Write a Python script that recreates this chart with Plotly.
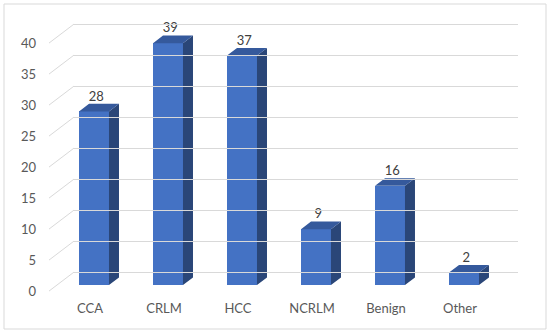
import plotly.graph_objects as go

categories = ["CCA", "CRLM", "HCC", "NCRLM", "Benign", "Other"]
values = [28, 39, 37, 9, 16, 2]
y_ticks = [0, 5, 10, 15, 20, 25, 30, 35, 40]

# geometry helpers (pixel-based oblique projection)
PX_PER_CAT = 74.0
PX_PER_VAL = 6.2
SLOPE = 0.76
BAR_W = 0.405
BAR_DEPTH = 10.0
FRONT_D = -8.0
BACK_D = 17.0
WALL_X = -0.5 - 0.108  # left edge of the side wall at the front plane (category units)

def proj(x, v, d):
    return x + d / PX_PER_CAT, v + d * SLOPE / PX_PER_VAL

FRONT = "#4472c4"
TOP = "#35599c"
SIDE = "#2a4678"

fig = go.Figure()

# back wall gridlines (secondary axes)
fig.add_trace(go.Scatter(x=[0], y=[0], xaxis="x2", yaxis="y2", mode="markers",
                         marker=dict(opacity=0), hoverinfo="skip", showlegend=False))

# side wall diagonals
dx, dy = [], []
for t in y_ticks:
    fx, fy = proj(WALL_X - FRONT_D / PX_PER_CAT, t, FRONT_D)
    bx, by = proj(WALL_X - FRONT_D / PX_PER_CAT, t, BACK_D)
    dx += [fx, bx, None]
    dy += [fy, by, None]
fig.add_trace(go.Scatter(x=dx, y=dy, mode="lines", line=dict(color="#d9d9d9", width=1),
                         hoverinfo="skip", showlegend=False))

# front faces
xs = list(range(len(categories)))
fig.add_trace(go.Bar(x=xs, y=values, width=BAR_W, marker=dict(color=FRONT, line=dict(width=0)),
                     showlegend=False, hoverinfo="skip"))

# side and top faces
sx, sy, tx, ty = [], [], [], []
for i, v in zip(xs, values):
    r = i + BAR_W / 2
    l = i - BAR_W / 2
    p1 = proj(r, v, BAR_DEPTH)
    p0 = proj(r, 0, BAR_DEPTH)
    sx += [r, r, p1[0], p0[0], r, None]
    sy += [0, v, p1[1], p0[1], 0, None]
    q = proj(l, v, BAR_DEPTH)
    tx += [l, r, p1[0], q[0], l, None]
    ty += [v, v, p1[1], q[1], v, None]
fig.add_trace(go.Scatter(x=sx, y=sy, mode="lines", fill="toself", fillcolor=SIDE,
                         line=dict(width=0, color=SIDE), hoverinfo="skip", showlegend=False))
fig.add_trace(go.Scatter(x=tx, y=ty, mode="lines", fill="toself", fillcolor=TOP,
                         line=dict(width=0, color=TOP), hoverinfo="skip", showlegend=False))

# data labels
lx, ly = [], []
for i, v in zip(xs, values):
    _, py_ = proj(i, v, BAR_DEPTH)
    lx.append(i + 0.03)
    ly.append(py_)
fig.add_trace(go.Scatter(x=lx, y=ly, mode="text", text=[str(v) for v in values],
                         textposition="top center",
                         textfont=dict(family="Lato", size=13, color="#404040"),
                         hoverinfo="skip", showlegend=False, cliponaxis=False))

L, R, T, B = 40, 20, 15, 35
W, H = 550, 333
pw, ph = W - L - R, H - T - B
x_lo = (L - 94) / PX_PER_CAT
x_hi = (W - R - 94) / PX_PER_CAT
y_lo = (285 - (H - B)) / PX_PER_VAL
y_hi = (285 - T) / PX_PER_VAL

def fx_(p):
    return (p - L) / pw

def fy_(p):
    return (H - B - p) / ph

fig.update_layout(
    width=W, height=H,
    margin=dict(l=L, r=R, t=T, b=B),
    paper_bgcolor="white", plot_bgcolor="rgba(0,0,0,0)",
    font=dict(family="Lato", size=13, color="#595959"),
    xaxis=dict(range=[x_lo, x_hi], tickmode="array", tickvals=xs, ticktext=categories,
               showgrid=False, zeroline=False, showline=False, ticks="",
               ticklabelshift=-4, ticklabelstandoff=1,
               tickfont=dict(family="Lato", size=13, color="#595959")),
    yaxis=dict(range=[y_lo, y_hi], tickmode="array", tickvals=y_ticks,
               showgrid=False, zeroline=False, showline=False, ticks="",
               ticklabelshift=6, ticklabelstandoff=3,
               tickfont=dict(family="Lato", size=13, color="#595959")),
    xaxis2=dict(domain=[fx_(74), fx_(518)], range=[0, 1], anchor="y2",
                showgrid=False, zeroline=False, showticklabels=False, ticks=""),
    yaxis2=dict(domain=[fy_(272 + PX_PER_VAL), fy_(24 - PX_PER_VAL)], range=[-1, 41], anchor="x2",
                tickmode="array", tickvals=y_ticks, showgrid=True, gridcolor="#d9d9d9",
                gridwidth=1, zeroline=False, showticklabels=False, ticks=""),
    bargap=0,
    shapes=[dict(type="rect", xref="paper", yref="paper",
                 x0=fx_(4), x1=fx_(546), y0=fy_(329), y1=fy_(4),
                 line=dict(color="#d9d9d9", width=1), fillcolor="rgba(0,0,0,0)", layer="above")],
)

fig.write_html("out.html", config={"displayModeBar": False},
               post_script="document.body.style.margin='0';document.body.style.padding='0';")
